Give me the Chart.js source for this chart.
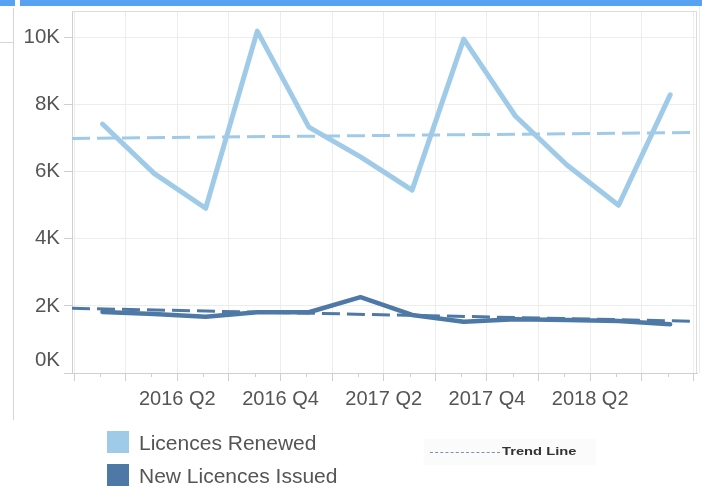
<!DOCTYPE html>
<html>
<head>
<meta charset="utf-8">
<script src="https://cdn.jsdelivr.net/npm/chart.js@4.4.1/dist/chart.umd.min.js"></script>
<style>
  html, body { margin: 0; padding: 0; background: #fff; }
  body { width: 702px; height: 487px; position: relative; overflow: hidden; font-family: "Liberation Sans", Arial, sans-serif; }
  .bar { position: absolute; top: 0; height: 6px; background: #55a3f2; }
  .vline { position: absolute; left: 13px; top: 8px; width: 1px; height: 412px; background: #d4d4d4; }
  .hline { position: absolute; left: 0; top: 42px; width: 13px; height: 1px; background: #d4d4d4; }
  #chart { position: absolute; left: 0; top: 0; }
  .legend { position: absolute; left: 107px; top: 431px; }
  .item { display: flex; align-items: flex-start; height: 33px; }
  .swatch { width: 22px; height: 22px; margin-right: 10px; }
  .item span { font-size: 21px; line-height: 22px; padding-top: 1px; color: #555; white-space: nowrap; }
  .trend { position: absolute; left: 424px; top: 439px; width: 172px; height: 26px; background: #fbfbfb; }
  .trend i { position: absolute; left: 6px; top: 13px; width: 70px; border-top: 1px dashed #7d93ad; }
  .trend b { position: absolute; left: 78px; top: 6px; font-size: 11.5px; color: #333; transform: scale(1.28, 1); transform-origin: left center; white-space: nowrap; }
</style>
</head>
<body>
<div class="bar" style="left:0;width:15px"></div>
<div class="bar" style="left:20px;width:682px"></div>
<div class="vline"></div>
<div class="hline"></div>
<canvas id="chart" width="702" height="487"></canvas>
<div class="legend" id="legend"></div>
<div class="trend"><i></i><b>Trend Line</b></div>
<script>
// quarters of the data, one point per quarter
const quarters = ['2015 Q4', '2016 Q1', '2016 Q2', '2016 Q3', '2016 Q4', '2017 Q1', '2017 Q2',
    '2017 Q3', '2017 Q4', '2018 Q1', '2018 Q2', '2018 Q3']
const renewed = [7420, 5950, 4910, 10190, 7330, 6440, 5450, 9950, 7660, 6200, 5000, 8290]
const issued = [1820, 1760, 1680, 1810, 1810, 2260, 1730, 1530, 1600, 1580, 1550, 1450]
// trend lines, value at the left and right edge of the plot
const trendRenewed = [6990, 7170]
const trendIssued = [1930, 1540]
const xTickLabels = ['2016 Q2', '2016 Q4', '2017 Q2', '2017 Q4', '2018 Q2']
const yTicks = [0, 2000, 4000, 6000, 8000, 10000]

const colors = { renewed: '#a0cbe8', issued: '#4e79a7' }
const xMin = -0.04
const xMax = 12.07
const pointOffset = 0.55

function toPoints(values) {
    return values.map((v, i) => ({ x: i + pointOffset, y: v }))
}

// frame, short tick marks between quarters, y labels (0K kept inside)
const axisExtras = {
    id: 'axisExtras',
    afterDraw(chart) {
        const ctx = chart.ctx
        const area = chart.chartArea
        const xs = chart.scales.x
        const ys = chart.scales.y
        ctx.save()
        ctx.strokeStyle = '#dcdcdc'
        ctx.lineWidth = 1
        ctx.beginPath()
        ctx.moveTo(area.left, area.top + 0.5)
        ctx.lineTo(area.right, area.top + 0.5)
        ctx.moveTo(area.right - 0.5, area.top)
        ctx.lineTo(area.right - 0.5, area.bottom)
        ctx.stroke()
        ctx.strokeStyle = '#ececec'
        ctx.beginPath()
        ctx.moveTo(699.5, 6)
        ctx.lineTo(699.5, area.bottom)
        ctx.stroke()

        ctx.strokeStyle = '#cfcfcf'
        ctx.beginPath()
        for (let k = 0; k < quarters.length; k++) {
            const px = Math.round(xs.getPixelForValue(k + 0.5)) + 0.5
            ctx.moveTo(px, area.bottom)
            ctx.lineTo(px, area.bottom + 4)
        }
        ctx.stroke()

        ctx.fillStyle = '#555'
        ctx.font = '20.5px "Liberation Sans", Arial, sans-serif'
        ctx.textAlign = 'right'
        ctx.textBaseline = 'middle'
        ys.ticks.forEach(t => {
            const py = Math.min(ys.getPixelForValue(t.value), area.bottom - 13)
            ctx.fillText((t.value / 1000) + 'K', 60, py)
        })
        ctx.restore()
    }
}

const chart = new Chart(document.getElementById('chart'), {
    type: 'line',
    data: {
        datasets: [
            {
                label: 'Licences Renewed',
                data: toPoints(renewed),
                borderColor: colors.renewed,
                borderWidth: 5,
                order: 3
            },
            {
                label: 'New Licences Issued',
                data: toPoints(issued),
                borderColor: colors.issued,
                borderWidth: 4.5,
                order: 2
            },
            {
                label: 'Trend Renewed',
                data: [{ x: xMin, y: trendRenewed[0] }, { x: xMax, y: trendRenewed[1] }],
                borderColor: colors.renewed,
                borderWidth: 3,
                borderDash: [18, 7],
                borderCapStyle: 'butt',
                order: 1
            },
            {
                label: 'Trend Issued',
                data: [{ x: xMin, y: trendIssued[0] }, { x: xMax, y: trendIssued[1] }],
                borderColor: colors.issued,
                borderWidth: 3,
                borderDash: [18, 7],
                borderCapStyle: 'butt',
                order: 0
            }
        ]
    },
    options: {
        responsive: false,
        animation: false,
        devicePixelRatio: 1,
        elements: {
            point: { radius: 0, hoverRadius: 0 },
            line: { tension: 0, borderCapStyle: 'round', borderJoinStyle: 'round', fill: false }
        },
        layout: { padding: { top: 11, right: 5, left: 0, bottom: 0 } },
        plugins: { legend: { display: false }, tooltip: { enabled: false } },
        scales: {
            x: {
                type: 'linear',
                min: xMin,
                max: xMax,
                afterBuildTicks(scale) {
                    const ticks = []
                    for (let k = 0; k <= quarters.length; k++) ticks.push({ value: k })
                    scale.ticks = ticks
                },
                afterFit(scale) { scale.height = 114 },
                grid: { color: '#ededed', tickColor: '#cfcfcf', tickLength: 8 },
                border: { color: '#cfcfcf' },
                ticks: {
                    autoSkip: false,
                    maxRotation: 0,
                    padding: 6,
                    color: '#555',
                    font: { family: '"Liberation Sans", Arial, sans-serif', size: 20 },
                    callback(value) {
                        const label = quarters[value]
                        return xTickLabels.includes(label) ? label : ''
                    }
                }
            },
            y: {
                min: 0,
                max: 10790,
                afterBuildTicks(scale) {
                    scale.ticks = yTicks.map(v => ({ value: v }))
                },
                afterFit(scale) { scale.width = 72 },
                grid: { color: '#ededed', tickColor: '#cfcfcf', tickLength: 8 },
                border: { color: '#cfcfcf' },
                ticks: { display: false }
            }
        }
    },
    plugins: [axisExtras]
})

// legend built from the first two datasets
const legend = document.getElementById('legend')
chart.data.datasets.slice(0, 2).forEach(ds => {
    const item = document.createElement('div')
    item.className = 'item'
    item.innerHTML = '<div class="swatch" style="background:' + ds.borderColor + '"></div><span>' + ds.label + '</span>'
    legend.appendChild(item)
})
</script>
</body>
</html>
